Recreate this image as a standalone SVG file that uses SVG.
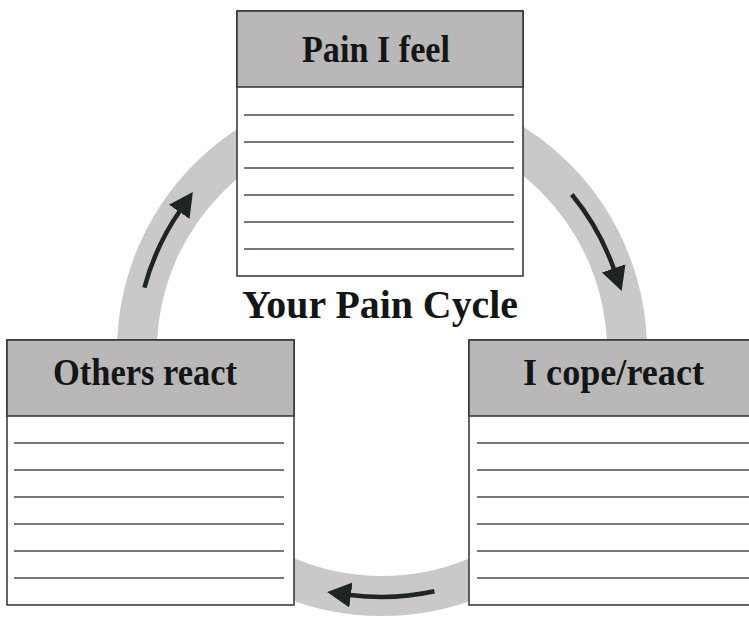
<svg xmlns="http://www.w3.org/2000/svg" width="749" height="617" viewBox="0 0 749 617">
<defs>
<style>
.box{fill:#fff;stroke:#2f3232;stroke-width:1.5}
.hdr{fill:#b9b7b8;stroke:#2f3232;stroke-width:1.5}
.ln{stroke:#4a4c4c;stroke-width:1.5}
.ht{font-family:"Liberation Serif",serif;font-weight:bold;font-size:37px;fill:#141616;text-anchor:middle}
.arr{fill:none;stroke:#1f2424;stroke-width:4.5}
</style>
<marker id="ah" markerUnits="userSpaceOnUse" markerWidth="24" markerHeight="25" viewBox="0 0 24 25" refX="1" refY="12.5" orient="auto">
<path d="M0,0 L24,12.5 L0,25 z" fill="#1f2424"/>
</marker>
</defs>
<rect width="749" height="617" fill="#fff"/>
<g id="connectors">
<circle cx="382" cy="351" r="245" fill="none" stroke="#cac8c9" stroke-width="40"/>
<path class="arr" d="M144.4,287.7 A246,246 0 0 1 179.8,211" marker-end="url(#ah)"/>
<path class="arr" d="M571.8,194.5 A246,246 0 0 1 614,269.3" marker-end="url(#ah)"/>
<path class="arr" d="M434.4,591.3 A246,246 0 0 1 349.9,594.9" marker-end="url(#ah)"/>
</g>
<g id="title">
<text x="380" y="318" font-family="Liberation Serif, serif" font-weight="bold" font-size="40" fill="#141616" text-anchor="middle" textLength="276" lengthAdjust="spacingAndGlyphs">Your Pain Cycle</text>
</g>
<g id="pain-i-feel">
<rect class="box" x="237" y="11" width="286" height="265"/>
<rect class="hdr" x="237" y="11" width="286" height="76"/>
<text class="ht" x="376" y="62" textLength="148" lengthAdjust="spacingAndGlyphs">Pain I feel</text>
<g class="ln">
<line x1="244" y1="115" x2="514" y2="115"/>
<line x1="244" y1="142" x2="514" y2="142"/>
<line x1="244" y1="168" x2="514" y2="168"/>
<line x1="244" y1="195" x2="514" y2="195"/>
<line x1="244" y1="222" x2="514" y2="222"/>
<line x1="244" y1="249" x2="514" y2="249"/>
</g>
</g>
<g id="others-react">
<rect class="box" x="7" y="340" width="287" height="265"/>
<rect class="hdr" x="7" y="340" width="287" height="76"/>
<text class="ht" x="145" y="385" textLength="184" lengthAdjust="spacingAndGlyphs">Others react</text>
<g class="ln">
<line x1="14" y1="443" x2="284" y2="443"/>
<line x1="14" y1="470" x2="284" y2="470"/>
<line x1="14" y1="497" x2="284" y2="497"/>
<line x1="14" y1="524" x2="284" y2="524"/>
<line x1="14" y1="551" x2="284" y2="551"/>
<line x1="14" y1="578" x2="284" y2="578"/>
</g>
</g>
<g id="i-cope-react">
<rect class="box" x="469" y="340" width="295" height="265"/>
<rect class="hdr" x="469" y="340" width="295" height="76"/>
<text class="ht" x="613.5" y="385" textLength="181" lengthAdjust="spacingAndGlyphs">I cope/react</text>
<g class="ln">
<line x1="477" y1="443" x2="760" y2="443"/>
<line x1="477" y1="470" x2="760" y2="470"/>
<line x1="477" y1="497" x2="760" y2="497"/>
<line x1="477" y1="524" x2="760" y2="524"/>
<line x1="477" y1="551" x2="760" y2="551"/>
<line x1="477" y1="578" x2="760" y2="578"/>
</g>
</g>
</svg>
